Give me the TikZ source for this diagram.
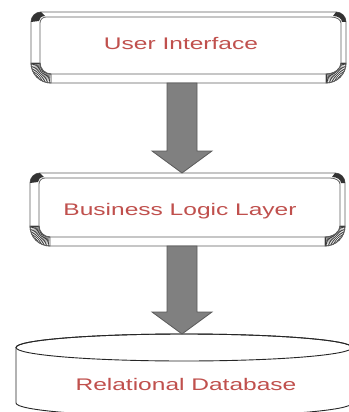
\documentclass[tikz,border=0pt]{standalone}
\usepackage{fontspec}
\setmainfont{Liberation Sans}
\usetikzlibrary{calc}

\definecolor{textred}{RGB}{192,80,77}
\definecolor{edgegray}{RGB}{95,95,95}
\definecolor{arrowfill}{RGB}{128,128,128}
\definecolor{arrowedge}{RGB}{90,90,90}

% wide sans labels
\newcommand\widetext[1]{\scalebox{1.46}[1]{#1}}

\tikzset{
  anchorbox/.style={draw=none, inner sep=0pt, outer sep=0pt, rectangle},
  bevel/.style={draw=edgegray, line width=0.8pt},
  hatch/.style={draw=black!85, line width=0.6pt},
  cornerdark/.style={fill=black!80},
  layertext/.style={text=textred, font=\fontsize{16.8}{20}\selectfont, inner sep=0pt, anchor=base},
  blockarrow/.style={fill=arrowfill, draw=arrowedge, line width=0.8pt, line join=miter},
  dbline/.style={draw=black!85, line width=0.9pt},
}

% bevelled button: #1 name, (#2,#3) upper left and (#4,#5) lower right of the outline
\newcommand\bevelbox[5]{%
  \node[anchorbox, minimum width={(#4-#2)*1pt}, minimum height={(#5-#3)*1pt}] (#1) at ({(#2+#4)/2},{(#3+#5)/2}) {};
  % outer outline
  \filldraw[bevel, fill=white] (#2+10,#3) -- (#4-10,#3) arc[start angle=270,end angle=360,radius=10]
    -- (#4,#5-20) arc[start angle=0,end angle=90,radius=20]
    -- (#2+20,#5) arc[start angle=90,end angle=180,radius=20]
    -- (#2,#3+10) arc[start angle=180,end angle=270,radius=10] -- cycle;
  % front face
  \draw[bevel] (#2+15,#3+5) -- (#4-15,#3+5) arc[start angle=270,end angle=360,x radius=10,y radius=6]
    -- (#4-5,#5-20) arc[start angle=0,end angle=90,x radius=15,y radius=11]
    -- (#2+20,#5-9) arc[start angle=90,end angle=180,radius=11]
    -- (#2+9,#3+11) arc[start angle=180,end angle=270,radius=6] -- cycle;
  % lower left corner, hatched
  \begin{scope}
    \clip (#2,#5-20) arc[start angle=180,end angle=90,radius=20] -- (#2+20,#5-9)
      arc[start angle=90,end angle=180,radius=11] -- cycle;
    \foreach \a in {90,95,...,180} \draw[hatch] (#2+20,#5-20) -- ++(\a:22);
  \end{scope}
  \draw[bevel] (#2,#5-20) arc[start angle=180,end angle=90,radius=20] -- (#2+20,#5-9)
      arc[start angle=90,end angle=180,radius=11] -- cycle;
  % lower right corner, hatched
  \begin{scope}
    \clip (#4,#5-20) arc[start angle=0,end angle=90,radius=20] -- (#4-20,#5-9)
      arc[start angle=90,end angle=0,x radius=15,y radius=11] -- cycle;
    \foreach \a in {0,5,...,90} \draw[hatch] (#4-20,#5-20) -- ++(\a:22);
  \end{scope}
  \draw[bevel] (#4,#5-20) arc[start angle=0,end angle=90,radius=20] -- (#4-20,#5-9)
      arc[start angle=90,end angle=0,x radius=15,y radius=11] -- cycle;
  % upper corners, dark
  \fill[cornerdark] (#2,#3+10) arc[start angle=180,end angle=270,radius=10]
    -- (#2+14,#3+4) arc[start angle=270,end angle=180,x radius=6,y radius=5] -- cycle;
  \fill[cornerdark] (#4-10,#3) arc[start angle=270,end angle=360,radius=10]
    -- (#4-4,#3+10) arc[start angle=0,end angle=-90,x radius=9,y radius=6] -- cycle;
}

% thick downward arrow: #1 from node, #2 to node, #3 shaft centre x
\newcommand\layerarrow[3]{%
  \draw[blockarrow] let \p1=(#1.south), \p2=(#2.north), \p3=(#3,0) in
    (\x3-15pt,\y1) -- (\x3+15pt,\y1) -- (\x3+15pt,\y2+22pt) -- (\x3+30pt,\y2+22pt)
    -- (\x3,\y2) -- (\x3-30pt,\y2+22pt) -- (\x3-15pt,\y2+22pt) -- cycle;
}

\begin{document}
\begin{tikzpicture}[x=1pt, y=-1pt]
  \useasboundingbox (0,0) rectangle (348,412);
  \fill[white] (0,0) rectangle (348,412);

  % presentation and logic layers
  \bevelbox{ui}{31}{12}{346}{83}
  \bevelbox{bl}{30}{173}{345}{246}

  % database cylinder
  \node[anchorbox, minimum width=336pt, minimum height=79pt] (db) at (184,373.5) {};
  \filldraw[dbline, fill=white] (16,347.5) -- (16,403)
    arc[start angle=180,end angle=0,x radius=168,y radius=13.5] -- (352,347.5)
    arc[start angle=0,end angle=-180,x radius=168,y radius=13.5] -- cycle;
  \draw[dbline] (184,347.5) ellipse[x radius=168, y radius=13.5];

  % labels
  \node[layertext] (uitext) at (181,50) {\widetext{User Interface}};
  \node[layertext] (bltext) at (180,215) {\widetext{Business Logic Layer}};
  \node[layertext] (dbtext) at (186,390.7) {\widetext{Relational Database}};

  % flow between layers
  \layerarrow{ui}{bl}{182}
  \layerarrow{bl}{db}{182}
\end{tikzpicture}
\end{document}
